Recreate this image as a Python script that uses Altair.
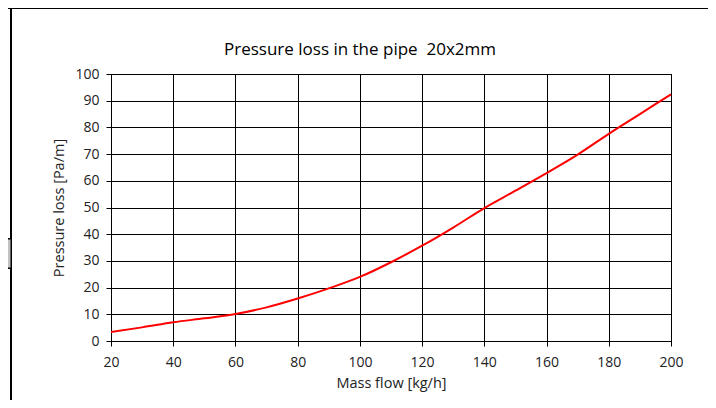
import altair as alt
import pandas as pd

# Data
mass_flow = [20, 30, 40, 50, 60, 70, 80, 90, 100, 110, 120, 130, 140, 150, 160, 170, 180, 190, 200]
pressure_loss = [3.4, 5.1, 7.0, 8.5, 10.1, 12.6, 15.9, 19.7, 24.0, 29.5, 35.7, 42.5, 49.8, 56.3, 62.9, 69.8, 77.6, 85.0, 92.4]
x_ticks = [20, 40, 60, 80, 100, 120, 140, 160, 180, 200]
y_ticks = [0, 10, 20, 30, 40, 50, 60, 70, 80, 90, 100]
title_text = ["Pressure loss in the pipe\u00a0 20x2mm"]

df = pd.DataFrame({"flow": mass_flow, "loss": pressure_loss})
FONT = "Open Sans"

line = alt.Chart(df).mark_line(color="#ff0000", strokeWidth=2, interpolate="monotone").encode(
    x=alt.X("flow:Q", scale=alt.Scale(domain=[20, 200], nice=False, zero=False),
            axis=alt.Axis(values=x_ticks, title="Mass flow [kg/h]", grid=True, labelFlush=False)),
    y=alt.Y("loss:Q", scale=alt.Scale(domain=[0, 100], nice=False),
            axis=alt.Axis(values=y_ticks, title="Pressure loss [Pa/m]", grid=True, labelFlush=False)),
)

title = alt.Chart(pd.DataFrame({"t": title_text})).mark_text(
    font=FONT, fontSize=17, color="black", align="center", baseline="alphabetic"
).encode(text="t:N", x=alt.value(249), y=alt.value(-19))

# decorative document frame around the chart
frame_left = alt.Chart(df).mark_rule(color="black", strokeWidth=1.5).encode(
    x=alt.value(-100), y=alt.value(-66), y2=alt.value(330))
frame_right = alt.Chart(df).mark_rule(color="black", strokeWidth=1.5).encode(
    x=alt.value(600), y=alt.value(-66), y2=alt.value(330))
frame_top = alt.Chart(df).mark_rule(color="black", strokeWidth=1.5).encode(
    x=alt.value(-103), x2=alt.value(605), y=alt.value(-66))
grey_box = alt.Chart(df).mark_rect(color="#c0c0c0", stroke="black", strokeWidth=1).encode(
    x=alt.value(-104), x2=alt.value(-100), y=alt.value(165), y2=alt.value(194))

chart = alt.layer(frame_left, frame_right, frame_top, grey_box, line, title).properties(
    width=560, height=267,
    autosize=alt.AutoSizeParams(type="none"),
    padding={"left": 103, "top": 66, "right": 37, "bottom": 59},
).configure_view(stroke="black", strokeWidth=1).configure_axis(
    labelFont=FONT, titleFont=FONT, labelFontSize=14, titleFontSize=14.5,
    labelColor="#222", titleColor="#222", titleFontWeight="normal",
    domainColor="black", tickColor="black", gridColor="black", gridOpacity=1,
    gridWidth=1, tickSize=5,
).configure_axisX(labelPadding=9, titlePadding=7).configure_axisY(labelPadding=7, titlePadding=8)

chart.save("out.html", embed_options={"renderer": "svg", "actions": False})
